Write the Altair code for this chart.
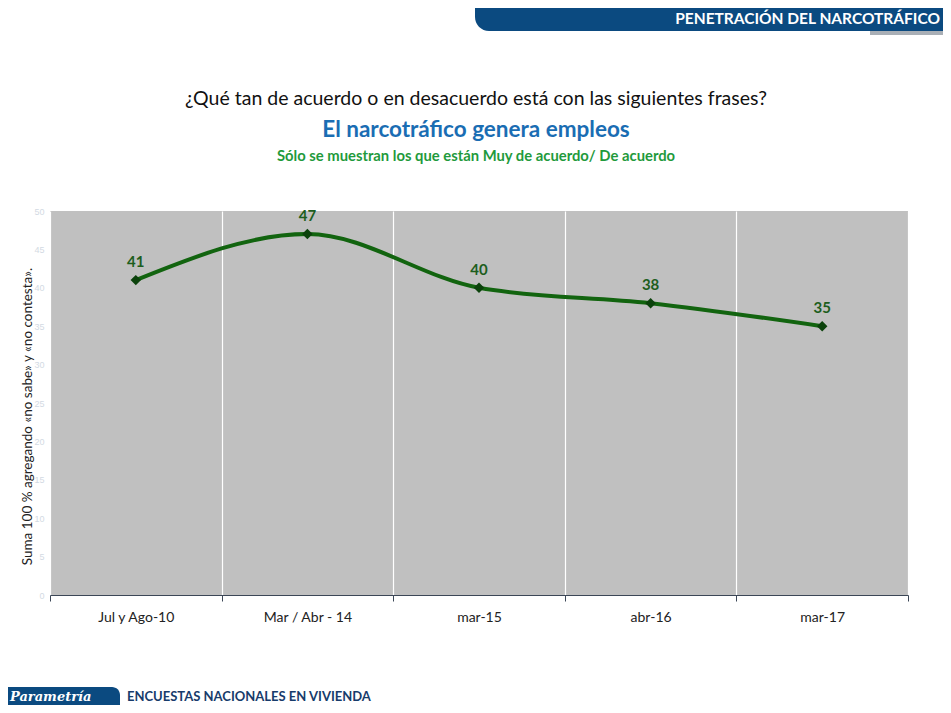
import pandas as pd
import altair as alt

# data
periods = ["Jul y Ago-10", "Mar / Abr - 14", "mar-15", "abr-16", "mar-17"]
values = [41, 47, 40, 38, 35]

y_axis_title = "Suma 100 % agregando «no sabe» y «no contesta»."
question = "¿Qué tan de acuerdo o en desacuerdo está con las siguientes frases?"
heading = "El narcotráfico genera empleos"
subheading = "Sólo se muestran los que están Muy de acuerdo/ De acuerdo"
banner_text = "PENETRACIÓN DEL NARCOTRÁFICO"
footer_brand = "Parametría"
footer_text = "ENCUESTAS NACIONALES EN VIVIENDA"

df = pd.DataFrame({"periodo": periods, "valor": values})

FONT = "Lato"
W, H = 858, 384

x_enc = alt.X("periodo:N", sort=periods, bandPosition=0.5,
              scale=alt.Scale(type="band", paddingInner=0, paddingOuter=0),
              axis=alt.Axis(title=None, tickBand="extent", grid=True, gridColor="white",
                            gridWidth=1.2, domainColor="#3b4656", tickColor="#3b4656",
                            tickSize=6, labelPadding=9, labelFontSize=14, labelFont=FONT,
                            labelColor="#222222", labelAngle=0))
y_enc = alt.Y("valor:Q", scale=alt.Scale(domain=[0, 50], nice=False),
              axis=alt.Axis(values=list(range(0, 51, 5)), grid=False, domain=False, ticks=False,
                            labelColor="#d3dae3", labelFontSize=9, labelPadding=6,
                            title=y_axis_title, titleFont=FONT, titleFontSize=13.5,
                            titleFontWeight="normal", titleColor="#222222",
                            titleX=-23, titleY=H / 2 + 13, titleBaseline="middle"))

base = alt.Chart(df).encode(x=x_enc, y=y_enc)

line = base.mark_line(interpolate="monotone", color="#12640f", strokeWidth=4)
pts = base.mark_point(shape="diamond", filled=True, size=110, color="#0b420b", opacity=1)
labels = base.mark_text(dy=-18, font=FONT, fontSize=15, fontWeight="bold",
                        color="#1d5e1d").encode(text="valor:Q")

# page decorations (positions relative to plot origin at page 50,211)
one = pd.DataFrame({"k": [0]})
banner_bar = alt.Chart(one).mark_rect(color="#0b4a80").encode(
    x=alt.value(-50), x2=alt.value(901), y=alt.value(-219), y2=alt.value(-208))
banner_tab = alt.Chart(one).mark_rect(color="#0b4a80", cornerRadiusBottomLeft=14).encode(
    x=alt.value(425), x2=alt.value(901), y=alt.value(-219), y2=alt.value(-180))
banner_shadow = alt.Chart(one).mark_rect(color="#a9afb6").encode(
    x=alt.value(820), x2=alt.value(901), y=alt.value(-180), y2=alt.value(-176))
banner_lbl = alt.Chart(pd.DataFrame({"t": [banner_text]})).mark_text(
    align="right", baseline="middle", font=FONT, fontSize=15.5, fontWeight="bold", color="white"
).encode(x=alt.value(890), y=alt.value(-192), text="t:N")

q_lbl = alt.Chart(pd.DataFrame({"t": [question]})).mark_text(
    align="center", baseline="middle", font=FONT, fontSize=19.5, color="#111111"
).encode(x=alt.value(426), y=alt.value(-112), text="t:N")
h_lbl = alt.Chart(pd.DataFrame({"t": [heading]})).mark_text(
    align="center", baseline="middle", font=FONT, fontSize=22.5, fontWeight="bold", color="#1a6db3"
).encode(x=alt.value(426), y=alt.value(-81), text="t:N")
s_lbl = alt.Chart(pd.DataFrame({"t": [subheading]})).mark_text(
    align="center", baseline="middle", font=FONT, fontSize=14.8, fontWeight="bold", color="#1f9a3c"
).encode(x=alt.value(426), y=alt.value(-54), text="t:N")

footer_box = alt.Chart(one).mark_rect(color="#0b4a80", cornerRadiusTopRight=8).encode(
    x=alt.value(-50), x2=alt.value(70), y=alt.value(476), y2=alt.value(495))
footer_brand_lbl = alt.Chart(pd.DataFrame({"t": [footer_brand]})).mark_text(
    align="left", baseline="middle", font="DejaVu Serif", fontSize=13, fontStyle="italic",
    fontWeight="bold", color="white"
).encode(x=alt.value(-40), y=alt.value(486), text="t:N")
footer_lbl = alt.Chart(pd.DataFrame({"t": [footer_text]})).mark_text(
    align="left", baseline="middle", font=FONT, fontSize=13, fontWeight="bold", color="#173b6b"
).encode(x=alt.value(77), y=alt.value(486), text="t:N")

chart = (alt.layer(banner_bar, banner_tab, banner_shadow, banner_lbl, q_lbl, h_lbl, s_lbl,
                   line, pts, labels, footer_box, footer_brand_lbl, footer_lbl)
    .properties(width=W, height=H, background="white",
                autosize=alt.AutoSizeParams(type="none"),
                padding={"left": 42, "top": 203, "right": 35, "bottom": 110})
    .configure_view(fill="#c0c0c0", strokeWidth=0))

chart.save("out.html", embed_options={"renderer": "svg", "actions": False})
